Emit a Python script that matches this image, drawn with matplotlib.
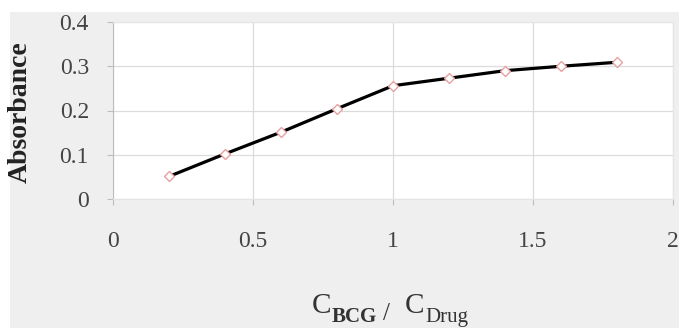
import matplotlib
matplotlib.use("Agg")
import matplotlib.pyplot as plt
from matplotlib.patches import Rectangle

ratio = [0.2, 0.4, 0.6, 0.8, 1.0, 1.2, 1.4, 1.6, 1.8]
absorbance = [0.051, 0.102, 0.151, 0.204, 0.256, 0.273, 0.290, 0.300, 0.309]
xticks = [0, 0.5, 1, 1.5, 2]
xticklabels = ["0", "0.5", "1", "1.5", "2"]
yticks = [0, 0.1, 0.2, 0.3, 0.4]
yticklabels = ["0", "0.1", "0.2", "0.3", "0.4"]

plt.rcParams['font.family'] = ['Liberation Serif', 'DejaVu Serif']

W, H = 679, 328
fig = plt.figure(figsize=(W / 100, H / 100), dpi=100, facecolor='white')
fig.add_artist(Rectangle((10 / W, 0), 1 - 10 / W, 1 - 12 / H, transform=fig.transFigure,
                         facecolor='#efefef', edgecolor='none', zorder=-5))

ax = fig.add_axes([113 / W, 1 - 199 / H, 560 / W, 177 / H])
ax.set_zorder(1)
ax.set_facecolor('white')

ax.plot(ratio, absorbance, color='black', lw=2.3, marker='D', ms=5.5,
        mfc='white', mec='#e8a0a0', mew=1.0, zorder=3)

ax.set_xlim(0, 2)
ax.set_ylim(0, 0.4)
ax.set_xticks(xticks)
ax.set_xticklabels(xticklabels)
ax.set_yticks(yticks)
ax.set_yticklabels(yticklabels)
ax.grid(True, color='#dcdcdc', lw=0.9)
ax.set_axisbelow(True)
for name, s in ax.spines.items():
    s.set_color('#e4e4e4')
    s.set_linewidth(0.8)
ax.spines['left'].set_color('#bdbdbd')
ax.tick_params(axis='x', length=4.3, color='#bdbdbd', labelsize=17, labelcolor='#444444', pad=19)
ax.tick_params(axis='y', length=4.3, color='#bdbdbd', labelsize=17, labelcolor='#444444', pad=13)

ax.set_ylabel('Absorbance', fontsize=20, fontweight='bold', color='#222222')
ax.yaxis.set_label_coords(-0.143, 0.49)

# x-axis title built from pieces (pixel positions)
def ftext(px, py, s, **kw):
    fig.text(px / W, 1 - py / H, s, ha='left', va='baseline', color='#333333', **kw)

ftext(312, 313, 'C', fontsize=21)
ftext(332, 322, 'BCG', fontsize=15, fontweight='bold')
ftext(383, 320, '/', fontsize=18)
ftext(405, 313, 'C', fontsize=21)
ftext(425, 322, 'Drug', fontsize=15)

fig.savefig('out.png', dpi=100, facecolor=fig.get_facecolor())
